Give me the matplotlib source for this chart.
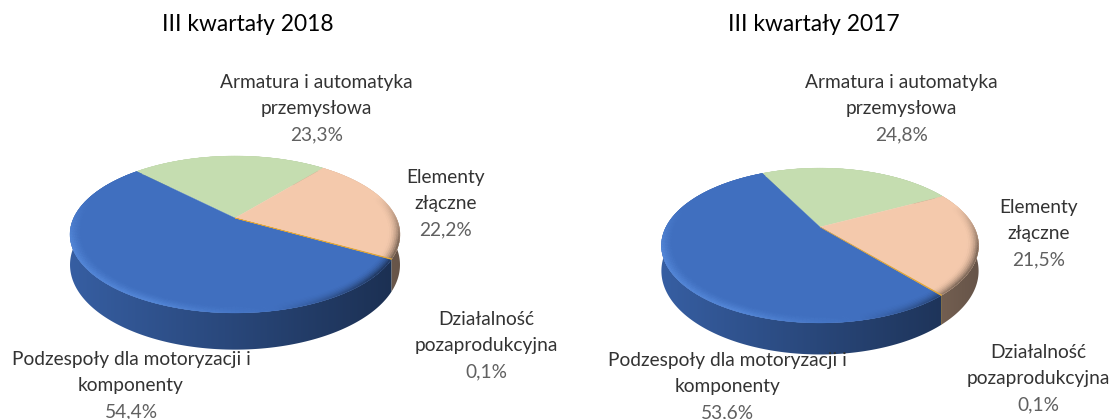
import numpy as np
import matplotlib
matplotlib.use('Agg')
import matplotlib.pyplot as plt
from matplotlib.collections import PolyCollection
from matplotlib.patches import Polygon

plt.rcParams['font.family'] = ['Lato', 'DejaVu Sans']

names = ['Armatura i automatyka\nprzemysłowa', 'Elementy\nzłączne',
         'Działalność\npozaprodukcyjna', 'Podzespoły dla motoryzacji i\nkomponenty']
shares_2018 = [23.3, 22.2, 0.1, 54.4]
shares_2017 = [24.8, 21.5, 0.1, 53.6]
titles = ['III kwartały 2018', 'III kwartały 2017']

colors = ['#C5DDB0', '#F4C9AC', '#E0A63A', '#406FBF']


def proj(t, r, g, drop=0.0):
    X = r * np.cos(t)
    Y = r * np.sin(t)
    w = 1 + g['k'] * Y
    return g['cx'] + g['A'] * X / w, g['cy'] - g['B'] * Y / w + drop / w


def mix(c, other, f):
    return tuple(np.array(c) * (1 - f) + np.array(other) * f)


def draw_pie(ax, shares, g):
    start = np.radians(g['start'])
    edges = start - np.cumsum([0] + shares) / 100 * 2 * np.pi
    rgb = [matplotlib.colors.to_rgb(c) for c in colors]
    left = g['cx'] - g['A'] * 1.03
    right = g['cx'] + g['A'] * 1.03

    # side first, gradient clipped to each slice
    ramp = np.linspace(0.85, 0.42, 256)
    for i in range(len(shares)):
        t = np.linspace(edges[i], edges[i + 1], max(3, int(abs(edges[i] - edges[i + 1]) / 0.01)))
        xt, yt = proj(t, 1, g)
        xb, yb = proj(t[::-1], 1, g, g['drop'])
        shape = Polygon(np.c_[np.r_[xt, xb], np.r_[yt, yb]], closed=True, transform=ax.transData,
                        fc='none', ec='none')
        ax.add_patch(shape)
        img = np.outer(ramp, rgb[i]).reshape(1, 256, 3)
        im = ax.imshow(img, extent=[left, right, g['cy'] + 200, g['cy'] - 200], aspect='auto',
                       interpolation='bilinear', zorder=2)
        im.set_clip_path(shape)

    # top face
    for i in range(len(shares)):
        t = np.linspace(edges[i], edges[i + 1], max(2, int(abs(edges[i] - edges[i + 1]) / 0.01)))
        x, y = proj(t, 1, g)
        xs = np.r_[g['cx'], x]
        ys = np.r_[g['cy'], y]
        thin = shares[i] < 1
        ax.fill(xs, ys, fc=colors[i], ec=colors[i], lw=0.45 if thin else 0.2, zorder=4 if thin else 3)

    # bevel on the rim
    radii = np.linspace(0.93, 1.0, 8)
    polys, cols = [], []
    for i in range(len(shares)):
        if shares[i] < 1:
            continue
        n = max(2, int(abs(edges[i] - edges[i + 1]) / 0.02))
        t = np.linspace(edges[i], edges[i + 1], n)
        for a, b in zip(t[:-1], t[1:]):
            m = (a + b) / 2
            front = np.clip((0.3 - np.sin(m)) / 0.6, 0, 1)
            side = np.cos(m)
            for r0, r1 in zip(radii[:-1], radii[1:]):
                u = (r0 + r1 - 2 * radii[0]) / 2 / (radii[-1] - radii[0])
                if side < 0.2:
                    strength = front * min(1, (0.2 - side) * 1.6) * u ** 1.5
                    c = mix(rgb[i], (0.45, 0.68, 1.0), 0.42 * strength)
                else:
                    strength = front * min(1, (side - 0.2) * 1.8) * u ** 2
                    c = mix(rgb[i], (0, 0, 0), 0.55 * strength)
                xa, ya = proj(a, r0, g)
                xb, yb = proj(b, r0, g)
                xc, yc = proj(b, r1, g)
                xd, yd = proj(a, r1, g)
                polys.append([(xa, ya), (xb, yb), (xc, yc), (xd, yd)])
                cols.append(c)
    ax.add_collection(PolyCollection(polys, facecolors=cols, edgecolors=cols, linewidths=0.25, zorder=3.5))


def draw_labels(ax, shares, spots, title, title_x):
    ax.text(title_x, 31, title, fontsize=16.4, color='black', ha='center', va='baseline', zorder=6)
    for name, v, (x, y) in zip(names, shares, spots):
        rows = name.split('\n')
        for j, row in enumerate(rows):
            ax.text(x, y + 26 * j, row, fontsize=13.8, color='#333333', ha='center', va='baseline', zorder=6)
        ax.text(x, y + 52, ('%.1f%%' % v).replace('.', ','), fontsize=13.8, color='#606060',
                ha='center', va='baseline', zorder=6)


fig = plt.figure(figsize=(11.13, 4.19), dpi=100)
ax = fig.add_axes([0, 0, 1, 1])

geo_2018 = dict(cx=235, cy=218, A=161.3, B=75, k=0.21, drop=29, start=134.5)
geo_2017 = dict(cx=820, cy=227, A=154, B=73, k=0.239, drop=24, start=117)

draw_pie(ax, shares_2018, geo_2018)
draw_pie(ax, shares_2017, geo_2017)

spots_2018 = [(316.5, 88), (446, 183), (486, 325), (131, 365)]
spots_2017 = [(901.5, 88), (1039, 213), (1038, 358), (727.5, 366)]
draw_labels(ax, shares_2018, spots_2018, titles[0], 248)
draw_labels(ax, shares_2017, spots_2017, titles[1], 814)

ax.set_xlim(0, 1113)
ax.set_ylim(419, 0)
ax.axis('off')

fig.savefig('out.png', dpi=100)
